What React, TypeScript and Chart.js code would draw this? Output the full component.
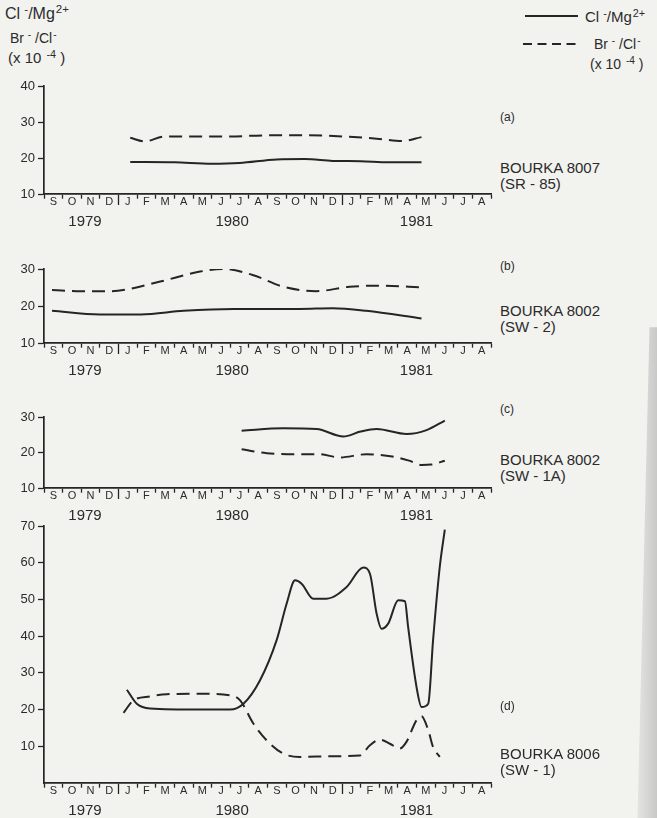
import React, { useEffect, useRef } from 'react';
import { Chart, registerables } from 'chart.js';

Chart.register(...registerables);

// ---------- data ----------
const months = ['S', 'O', 'N', 'D', 'J', 'F', 'M', 'A', 'M', 'J', 'J', 'A', 'S', 'O', 'N', 'D', 'J', 'F', 'M', 'A', 'M', 'J', 'J', 'A'];
const yearLabels = ['1979', '1980', '1981'];
const yearPositions = [2.2, 10.1, 20.0]; // months since 1 Sep 1979

// (a) BOURKA 8007 (SR-85)
const aClMonths = [4.63, 7.0, 9.0, 10.5, 12.5, 14.0, 15.5, 17.0, 18.5, 20.27];
const aClValues = [18.9, 18.8, 18.4, 18.6, 19.6, 19.7, 19.2, 19.1, 18.8, 18.8];
const aBrMonths = [4.63, 5.4, 6.4, 8.0, 10.0, 12.0, 14.0, 16.0, 18.0, 19.2, 20.27];
const aBrValues = [25.6, 24.6, 25.9, 26.0, 26.0, 26.3, 26.3, 26.0, 25.3, 24.7, 25.8];

// (b) BOURKA 8002 (SW-2)
const bClMonths = [0.43, 3.0, 5.2, 7.5, 10.2, 13.7, 15.5, 17.3, 20.27];
const bClValues = [18.7, 17.7, 17.7, 18.7, 19.2, 19.2, 19.4, 18.7, 16.6];
const bBrMonths = [0.43, 2.0, 3.5, 4.45, 6.24, 8.38, 9.63, 11.2, 12.85, 14.6, 16.4, 18.2, 20.27];
const bBrValues = [24.3, 24.0, 24.0, 24.5, 26.6, 29.3, 30.0, 28.4, 25.2, 24.0, 25.2, 25.5, 25.0];

// (c) BOURKA 8002 (SW-1A)
const cClMonths = [10.61, 12.85, 14.64, 16.07, 17.0, 17.86, 19.47, 20.54, 21.52];
const cClValues = [26.1, 26.8, 26.6, 24.5, 25.9, 26.6, 25.2, 26.3, 29.0];
const cBrMonths = [10.61, 11.96, 13.74, 14.8, 15.87, 17.3, 18.7, 19.6, 20.27, 20.8, 21.52];
const cBrValues = [20.9, 19.8, 19.5, 19.5, 18.6, 19.5, 18.9, 17.7, 16.5, 16.6, 17.7];

// (d) BOURKA 8006 (SW-1)
const dClMonths = [4.45, 4.98, 5.7, 8.38, 9.99, 10.71, 11.6, 12.49, 13.03, 13.48, 13.83, 14.46, 15.17, 16.25, 17.14, 17.5, 17.86, 18.12, 18.48, 19.02, 19.38, 19.55, 20.0, 20.27, 20.63, 20.89, 21.25, 21.52];
const dClValues = [25.4, 21.6, 20.3, 20.0, 20.0, 21.6, 28.0, 38.9, 48.9, 55.2, 54.3, 50.2, 50.2, 53.4, 58.7, 57.0, 46.1, 42.0, 43.4, 49.8, 49.5, 42.5, 26.2, 20.7, 21.6, 38.9, 58.9, 69.0];
const dBrMonths = [4.27, 4.8, 5.7, 6.59, 8.38, 9.99, 10.53, 11.24, 11.96, 12.85, 13.74, 15.5, 16.96, 17.5, 18.03, 18.57, 19.1, 19.46, 20.0, 20.27, 20.63, 20.89, 21.25];
const dBrValues = [19.1, 22.5, 23.6, 24.2, 24.3, 23.9, 22.5, 16.2, 11.6, 8.0, 7.1, 7.3, 7.5, 10.3, 11.8, 10.7, 9.4, 11.2, 17.1, 18.2, 14.4, 9.8, 7.1];

// ---------- styling ----------
const FONT = '"Liberation Sans", Arial, Helvetica, sans-serif';
const INK = '#252525';
const TEXT = '#2b2b2b';
const BG = '#f2f2ef';

type PanelProps = {
  top: number;
  height: number;
  yMin: number;
  yMax: number;
  clM: number[];
  clV: number[];
  brM: number[];
  brV: number[];
};

function Panel({ top, height, yMin, yMax, clM, clV, brM, brV }: PanelProps) {
  const ref = useRef<HTMLCanvasElement>(null);
  useEffect(() => {
    if (!ref.current) return;
    const chart = new Chart(ref.current, {
      type: 'line',
      data: {
        datasets: [
          {
            label: 'Cl-/Mg2+',
            data: clM.map((m, i) => ({ x: m, y: clV[i] })),
            borderColor: INK,
            borderWidth: 2,
            pointRadius: 0,
            cubicInterpolationMode: 'monotone',
            fill: false,
          },
          {
            label: 'Br-/Cl- (x 10-4)',
            data: brM.map((m, i) => ({ x: m, y: brV[i] })),
            borderColor: INK,
            borderWidth: 2,
            borderDash: [13, 7],
            pointRadius: 0,
            cubicInterpolationMode: 'monotone',
            fill: false,
          },
        ],
      },
      options: {
        responsive: false,
        animation: false,
        devicePixelRatio: 1,
        layout: { padding: { top: 16, left: 0, right: 9, bottom: 0 } },
        plugins: { legend: { display: false }, tooltip: { enabled: false } },
        scales: {
          x: {
            type: 'linear',
            position: 'bottom',
            min: 0,
            max: 24,
            weight: 0,
            afterBuildTicks: (s: any) => {
              s.ticks = months.map((_, i) => ({ value: i + 0.5 }));
            },
            afterFit: (s: any) => {
              s.height = 16;
            },
            grid: {
              drawOnChartArea: false,
              drawTicks: true,
              tickLength: 11,
              offset: true,
              tickColor: INK,
              tickWidth: 1.3,
              tickBorderDash: (ctx: any) => (ctx.index === 4 || ctx.index === 16 ? [] : [4, 40]),
            },
            border: { display: true, color: INK, width: 1.7 },
            ticks: {
              autoSkip: false,
              maxRotation: 0,
              minRotation: 0,
              padding: -10,
              color: TEXT,
              font: { family: FONT, size: 11 },
              callback: (_v: any, i: number) => months[i],
            },
          },
          years: {
            type: 'linear',
            position: 'bottom',
            min: 0,
            max: 24,
            weight: 1,
            afterBuildTicks: (s: any) => {
              s.ticks = yearPositions.map((v) => ({ value: v }));
            },
            afterFit: (s: any) => {
              s.height = 26;
            },
            grid: { display: false, drawTicks: false },
            border: { display: false },
            ticks: {
              autoSkip: false,
              maxRotation: 0,
              minRotation: 0,
              padding: 3,
              color: TEXT,
              font: { family: FONT, size: 15 },
              callback: (_v: any, i: number) => yearLabels[i],
            },
          },
          y: {
            type: 'linear',
            position: 'left',
            min: yMin,
            max: yMax,
            afterFit: (s: any) => {
              s.width = 44;
            },
            grid: {
              drawOnChartArea: false,
              drawTicks: true,
              tickLength: 6,
              tickWidth: 1.3,
              tickColor: (ctx: any) => (ctx.tick && ctx.tick.value === 0 ? 'rgba(0,0,0,0)' : INK),
            },
            border: { display: true, color: INK, width: 1.7 },
            ticks: {
              stepSize: 10,
              padding: 3,
              color: TEXT,
              font: { family: FONT, size: 13 },
              callback: (v: any) => (v === 0 ? '' : String(v)),
            },
          },
        },
      } as any,
    });
    return () => chart.destroy();
  }, []);
  return (
    <canvas
      ref={ref}
      width={500}
      height={height}
      style={{ position: 'absolute', left: 0, top, width: 500, height }}
    />
  );
}

const Sup = ({ children }: { children: React.ReactNode }) => (
  <span style={{ fontSize: '0.72em', position: 'relative', top: '-0.5em', marginLeft: 1 }}>{children}</span>
);

function Txt({ x, capTop, size, lh, children }: { x: number; capTop: number; size: number; lh?: number; children: React.ReactNode }) {
  const lineH = lh ?? size;
  const top = capTop - (lineH - 1.117 * size) / 2 - 0.189 * size;
  return (
    <div
      style={{
        position: 'absolute',
        left: x,
        top,
        fontFamily: FONT,
        fontSize: size,
        lineHeight: `${lineH}px`,
        color: TEXT,
        whiteSpace: 'pre',
      }}
    >
      {children}
    </div>
  );
}

export default function App() {
  return (
    <div
      style={{
        position: 'absolute',
        left: 0,
        top: 0,
        width: 657,
        height: 818,
        overflow: 'hidden',
        background: BG,
      }}
    >
      {/* page-edge shadow at right */}
      <div
        style={{
          position: 'absolute',
          left: 627,
          top: 0,
          width: 30,
          height: 818,
          background: 'linear-gradient(to right, rgba(160,160,160,0) 0%, rgba(150,150,150,0.45) 100%)',
          clipPath: 'polygon(75% 40%, 100% 40%, 100% 100%, 35% 100%)',
        }}
      />

      {/* axis titles, top left */}
      <Txt x={5} capTop={8} size={16}>
        Cl<Sup> -</Sup>/Mg<Sup>2+</Sup>
      </Txt>
      <Txt x={10} capTop={33} size={14}>
        Br<Sup> -</Sup> /Cl<Sup>-</Sup>
      </Txt>
      <Txt x={8} capTop={52} size={15}>
        (x 10 <Sup>-4</Sup> )
      </Txt>

      {/* legend, top right */}
      <div style={{ position: 'absolute', left: 525, top: 15, width: 53, height: 0, borderTop: `2px solid ${INK}` }} />
      <svg style={{ position: 'absolute', left: 520, top: 38 }} width={60} height={12}>
        <line x1={3} y1={6} x2={57} y2={6} stroke={INK} strokeWidth={2} strokeDasharray="9 5.5" />
      </svg>
      <Txt x={585} capTop={11} size={15}>
        Cl<Sup> -</Sup>/Mg<Sup>2+</Sup>
      </Txt>
      <Txt x={594} capTop={39} size={14}>
        Br<Sup> -</Sup> /Cl<Sup>-</Sup>
      </Txt>
      <Txt x={590} capTop={59} size={14}>
        (x 10 <Sup>-4</Sup> )
      </Txt>

      {/* panels */}
      <Panel top={70} height={166} yMin={10} yMax={40} clM={aClMonths} clV={aClValues} brM={aBrMonths} brV={aBrValues} />
      <Panel top={253} height={132} yMin={10} yMax={30} clM={bClMonths} clV={bClValues} brM={bBrMonths} brV={bBrValues} />
      <Panel top={401} height={129} yMin={10} yMax={30} clM={cClMonths} clV={cClValues} brM={cBrMonths} brV={cBrValues} />
      <Panel top={510} height={315} yMin={0} yMax={70} clM={dClMonths} clV={dClValues} brM={dBrMonths} brV={dBrValues} />

      {/* panel labels, right */}
      <Txt x={500} capTop={113} size={12}>(a)</Txt>
      <Txt x={500} capTop={162} size={15} lh={16}>{'BOURKA 8007\n(SR - 85)'}</Txt>
      <Txt x={500} capTop={262} size={12}>(b)</Txt>
      <Txt x={500} capTop={305} size={15} lh={16}>{'BOURKA 8002\n(SW - 2)'}</Txt>
      <Txt x={500} capTop={405} size={12}>(c)</Txt>
      <Txt x={500} capTop={454} size={15} lh={16}>{'BOURKA 8002\n(SW - 1A)'}</Txt>
      <Txt x={500} capTop={702} size={12}>(d)</Txt>
      <Txt x={500} capTop={748} size={15} lh={16}>{'BOURKA 8006\n(SW - 1)'}</Txt>
    </div>
  );
}
